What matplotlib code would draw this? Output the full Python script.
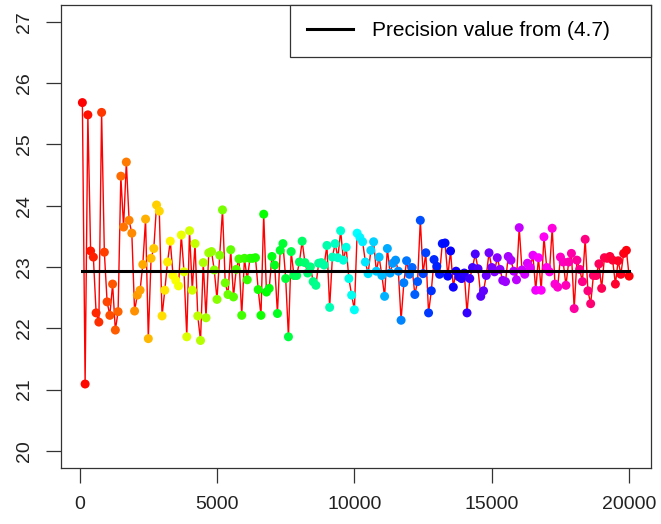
import numpy as np
import matplotlib
matplotlib.use("Agg")
import matplotlib.pyplot as plt
from matplotlib.colors import hsv_to_rgb

plt.rcParams['font.family'] = ['Liberation Sans', 'DejaVu Sans']

# sample sizes (x axis)
n_values = list(range(100, 20001, 100))

# estimates, in order of n
est_part1 = [25.68, 21.09, 25.48, 23.26, 23.16, 22.25, 22.10, 25.52, 23.24, 22.43,
             22.21, 22.72, 21.97, 22.27, 24.48, 23.65, 24.71, 23.76, 23.55, 22.28,
             22.54, 22.62, 23.04, 23.78, 21.83, 23.14, 23.30, 24.01, 23.91, 22.20,
             22.62, 23.08, 23.42, 22.86, 22.78, 22.69, 23.52, 22.92, 21.86, 23.59,
             22.62, 23.38, 22.20, 21.80, 23.07, 22.17, 23.23, 23.25, 22.95, 22.47]
est_part2 = [23.19, 23.93, 22.74, 22.55, 23.28, 22.51, 22.96, 23.13, 22.21, 23.14,
             22.79, 23.14, 23.14, 23.15, 22.63, 22.21, 23.86, 22.59, 22.65, 23.17,
             23.03, 22.24, 23.27, 23.38, 22.81, 21.86, 23.25, 22.86, 22.86, 23.08,
             23.42, 23.07, 22.90, 23.00, 22.76, 22.70, 23.06, 23.07, 23.03, 23.35,
             22.34, 23.16, 23.38, 23.15, 23.59, 23.11, 23.32, 22.81, 22.54, 22.30]
est_part3 = [23.55, 23.48, 23.41, 23.08, 22.89, 23.27, 23.41, 22.93, 23.16, 22.86,
             22.52, 23.30, 22.90, 23.06, 23.11, 22.93, 22.13, 22.74, 23.10, 22.88,
             22.99, 22.55, 22.76, 23.76, 22.89, 23.23, 22.25, 22.61, 23.12, 23.01,
             22.88, 23.38, 23.39, 22.85, 23.26, 22.67, 22.93, 22.84, 22.81, 22.90,
             22.25, 22.81, 22.99, 23.21, 22.97, 22.52, 22.61, 22.86, 23.23, 22.99]
est_part4 = [22.92, 23.15, 22.96, 22.78, 22.76, 23.17, 23.11, 22.93, 22.79, 23.64,
             22.95, 22.88, 23.06, 22.99, 23.19, 22.62, 23.15, 22.62, 23.49, 22.99,
             22.92, 23.63, 22.72, 22.67, 23.16, 23.08, 22.70, 23.08, 23.22, 22.32,
             23.11, 22.96, 22.76, 23.45, 22.61, 22.40, 22.86, 22.86, 23.05, 22.65,
             23.15, 23.14, 23.17, 23.11, 22.72, 23.10, 22.88, 23.22, 23.27, 22.85]
estimates = est_part1 + est_part2 + est_part3 + est_part4

precision_value = 22.94
legend_label = "Precision value from (4.7)"

# R-style rainbow(n)
n = len(n_values)
hues = np.arange(n) / n
colors = hsv_to_rgb(np.column_stack([hues, np.ones(n), np.ones(n)]))

fig = plt.figure(figsize=(6.61, 5.24), dpi=100)
ax = fig.add_axes([60.5 / 661, (524 - 468) / 524, (651 - 60.5) / 661, (468 - 4.5) / 524])

ax.plot(n_values, estimates, color='red', lw=1, zorder=2)
ax.scatter(n_values, estimates, c=colors, s=42, edgecolors='none', zorder=3)
ax.plot([n_values[0], n_values[-1]], [precision_value, precision_value],
        color='black', lw=2.2, zorder=4, label=legend_label)

ax.set_xlim(-696, 20796)
ax.set_ylim(19.72, 27.28)
ax.set_xticks([0, 5000, 10000, 15000, 20000])
ax.set_yticks(range(20, 28))
ax.tick_params(axis='both', direction='out', length=11, width=0.9,
               colors='#333333', labelcolor='#222222', labelsize=14)
ax.tick_params(axis='x', pad=9)
ax.tick_params(axis='y', pad=9)
for lab in ax.get_yticklabels():
    lab.set_rotation(90)
    lab.set_va('center')
for sp in ax.spines.values():
    sp.set_color('#333333')
    sp.set_linewidth(0.9)

# legend box stretched to the same width as in the original
leg = ax.legend(loc='upper right', bbox_to_anchor=(0.389, 0.0, 0.611, 1.0),
                mode='expand', fontsize=15, frameon=True, fancybox=False,
                edgecolor='#333333', framealpha=1, borderaxespad=0,
                borderpad=0.8, handlelength=2.2, handletextpad=0.95)
leg.get_frame().set_linewidth(0.9)

fig.savefig("out.png", dpi=100)
